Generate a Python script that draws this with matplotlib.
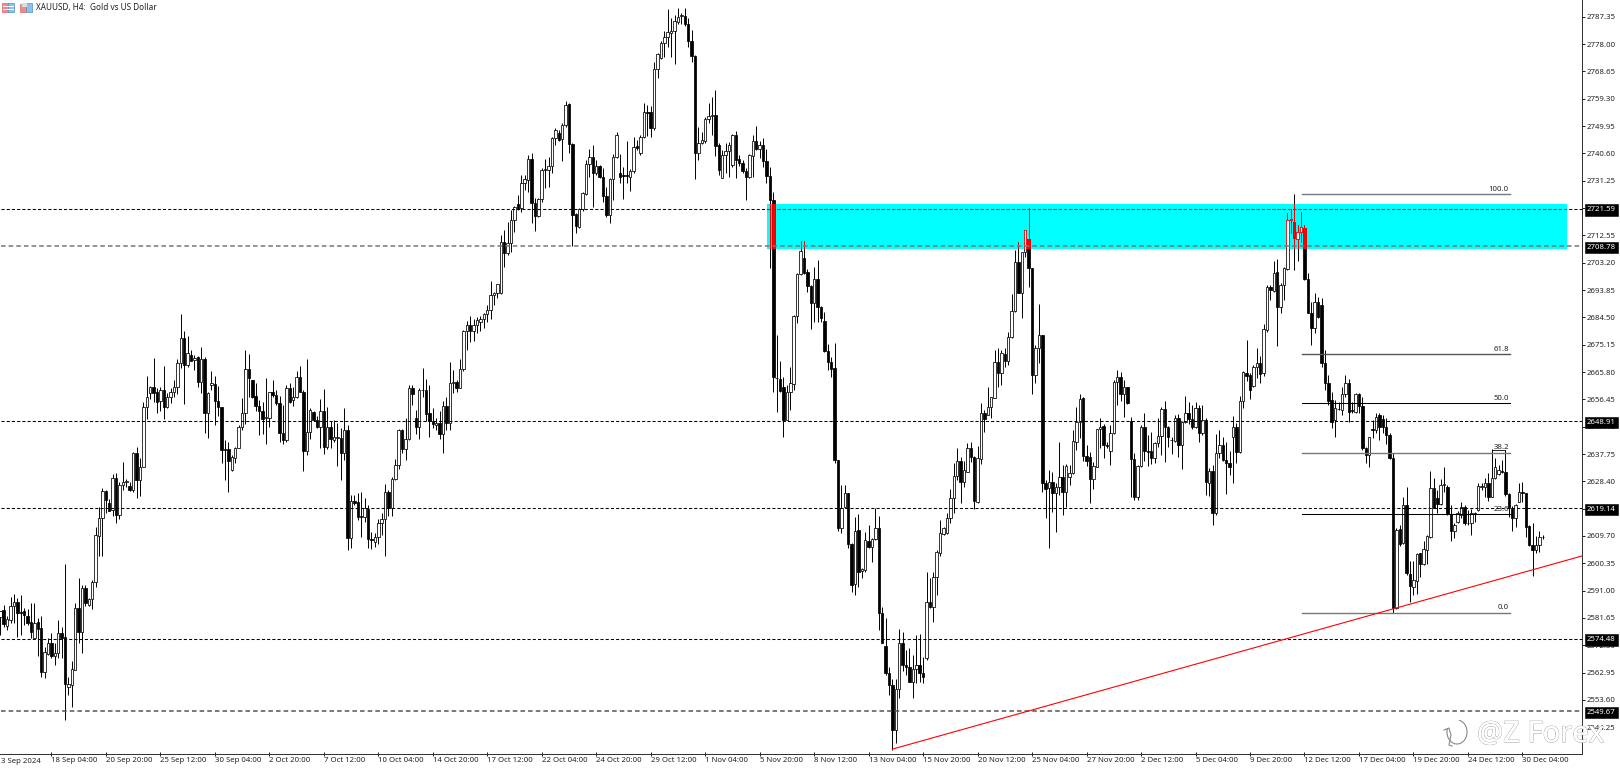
import matplotlib
matplotlib.use("Agg")
import matplotlib.pyplot as plt
import matplotlib.patheffects as pe
from matplotlib.patches import Rectangle, Arc

plt.rcParams['font.family'] = ['Noto Sans', 'DejaVu Sans']

# open, high, low, close, one H4 bar per tuple
bars_01 = [
    (2582, 2584.2, 2575.7, 2584), (2584.4, 2586.1, 2578.7, 2579.5), (2579, 2582.4, 2577.6, 2581.4), (2581, 2589, 2579.9, 2585.8),
    (2585.8, 2589.9, 2580, 2587), (2587, 2588.4, 2575.3, 2583.3), (2583.5, 2589.6, 2575.9, 2583.3), (2583.9, 2585, 2579.3, 2582.7),
    (2582.4, 2584.7, 2579.3, 2580.1), (2580.4, 2586.7, 2574.7, 2577), (2574.7, 2586.9, 2574.7, 2580.1), (2580.3, 2581.6, 2568.5, 2577.8),
    (2578.2, 2582.2, 2561.4, 2563.3), (2563.3, 2571.7, 2561.1, 2570), (2569.4, 2574.7, 2569, 2573.2), (2573.2, 2576.5, 2568.1, 2568.7),
    (2568.5, 2573, 2565.6, 2569.6), (2569.6, 2580.8, 2567.9, 2576.5), (2576.5, 2578.7, 2567.9, 2574.7), (2575.1, 2600, 2546.8, 2559.1),
    (2558.2, 2561.6, 2555.4, 2559.1), (2558.6, 2566.8, 2551.1, 2564.1), (2563.9, 2586.7, 2563.9, 2585), (2585, 2595.2, 2573, 2576.7),
    (2576.7, 2593, 2569.8, 2591.8), (2591.8, 2593, 2585.8, 2586.7), (2586.1, 2588.4, 2585.6, 2588.1), (2588.2, 2594.7, 2584.7, 2593.9),
    (2593.9, 2612.9, 2592.4, 2609.9), (2609.7, 2619.6, 2602.7, 2615.8), (2615.8, 2626, 2602.7, 2625.1), (2625.1, 2625.5, 2617.7, 2622.1),
    (2620.9, 2622.3, 2618.1, 2618.3), (2618.6, 2630.9, 2616.4, 2629.5), (2629.5, 2631.4, 2614.1, 2616.9), (2616.9, 2628.3, 2615.5, 2627),
    (2627, 2634.9, 2625.5, 2628.3), (2628.2, 2629.1, 2626.6, 2628.5), (2626.9, 2628.3, 2625.1, 2625.3), (2625.3, 2638.6, 2624.9, 2638.2),
    (2638.2, 2640.3, 2622.6, 2628.9), (2628.9, 2636.5, 2623.4, 2633.2), (2633.2, 2655.7, 2633.2, 2653.8), (2653.8, 2664.5, 2649.7, 2657.2),
    (2658.5, 2661.1, 2656.5, 2660.8), (2660.8, 2670.5, 2655.7, 2658.5), (2658.9, 2660.3, 2651.7, 2655.7), (2655.9, 2660.8, 2652.6, 2659.5),
    (2659.5, 2667.7, 2649.7, 2653.8), (2653.8, 2658.6, 2653.4, 2657.2), (2657.2, 2660.3, 2655.1, 2659.1), (2659.1, 2663.1, 2657.4, 2660.6),
    (2660.6, 2670.2, 2658.3, 2669), (2669, 2685.7, 2667.1, 2677.4), (2677.4, 2680, 2654.8, 2668.2), (2668.2, 2678.2, 2667.4, 2672.2),
    (2671.7, 2673.4, 2669.4, 2669.6), (2670, 2671.7, 2666.5, 2670.5), (2670.8, 2671.4, 2660.8, 2662.5), (2662.5, 2674.5, 2658.5, 2670.2),
    (2670.2, 2671.1, 2644.9, 2651.9), (2651.9, 2658.8, 2643.2, 2658.5), (2661.5, 2666, 2659.7, 2661.9), (2661.7, 2664.5, 2647.7, 2656),
    (2656, 2661, 2650.6, 2653.8), (2653.8, 2654, 2634.6, 2639), (2639.1, 2642.4, 2628.9, 2639), (2639.4, 2642, 2624.9, 2635.2),
    (2632.3, 2637.5, 2631.8, 2636.7), (2636.3, 2640.3, 2634.6, 2639.7), (2639.7, 2647.7, 2639.7, 2647),
]
bars_02 = [
    (2647, 2656.8, 2646, 2651.7), (2651.7, 2673.4, 2648.1, 2666.8), (2666.8, 2672, 2657.4, 2663.7), (2662.9, 2663.1, 2656.8, 2657.2),
    (2657.6, 2662.2, 2652.6, 2654.2), (2654.3, 2656.3, 2644.3, 2652.6), (2652.5, 2655.7, 2644.6, 2649.8), (2650, 2663.7, 2641.2, 2650),
    (2650, 2659.1, 2647.1, 2658.9), (2658.9, 2663.1, 2657.4, 2658), (2658, 2659.5, 2654.6, 2655.1), (2655.1, 2657.7, 2642, 2645.1),
    (2645.1, 2654.6, 2641.2, 2642.6), (2642.6, 2661.4, 2642, 2660.3), (2660.3, 2662.2, 2655.1, 2655.7), (2656.3, 2660.6, 2654.3, 2657.4),
    (2657.2, 2666, 2656.8, 2664.2), (2664.2, 2667.9, 2658.8, 2659.1), (2659.1, 2659.5, 2632.1, 2638.9), (2638.9, 2670.2, 2637.5, 2645.4),
    (2645.4, 2653.4, 2642.8, 2652.8), (2652, 2652.6, 2648.9, 2649.4), (2649.4, 2650.6, 2646.6, 2646.9), (2646.9, 2656.5, 2639.7, 2652.5),
    (2652.5, 2659.9, 2637.8, 2640.1), (2640.1, 2654, 2639.4, 2646.9), (2646.9, 2648.9, 2639.7, 2642.8), (2642.4, 2649.4, 2642, 2643.7),
    (2643.2, 2648.5, 2633.7, 2643.7), (2643.2, 2646.6, 2628.7, 2638), (2638, 2653.4, 2635.7, 2646), (2646, 2647.7, 2605, 2609),
    (2609, 2623.8, 2605.5, 2621.8), (2621.8, 2623.8, 2620.3, 2620.9), (2621.3, 2624.3, 2615.2, 2616.1), (2616.5, 2624.6, 2609.3, 2616.3),
    (2616.1, 2622.6, 2614.6, 2619.2), (2618.9, 2620.3, 2605.5, 2608.7), (2608.8, 2610.9, 2605.2, 2608.2), (2607.5, 2610.7, 2606.1, 2609.3),
    (2609.3, 2615.4, 2607, 2614.1), (2614.1, 2617.5, 2610.1, 2615.4), (2615.4, 2627.5, 2602.9, 2624.9), (2624.9, 2625.5, 2616.4, 2619.2),
    (2619.2, 2629.8, 2616.4, 2629.1), (2629.1, 2636.2, 2628.9, 2633.9), (2633.9, 2646.2, 2632.6, 2645.8), (2645.8, 2646.2, 2638, 2639.4),
    (2639.4, 2650, 2635.7, 2642.8), (2642.8, 2661.4, 2642.6, 2660.5), (2660.5, 2661.4, 2654.6, 2658.3), (2650, 2652.8, 2644.6, 2646.9),
    (2646.9, 2660.3, 2642.9, 2659.5), (2659.5, 2667.1, 2657.2, 2659.7), (2659.5, 2663.3, 2648.9, 2651.5), (2651.7, 2661.4, 2643.7, 2648.9),
    (2648.9, 2653.4, 2646.6, 2648), (2647.7, 2650, 2646, 2648.5), (2648.5, 2652.6, 2642.9, 2644.5), (2644.5, 2656, 2638, 2654.2),
    (2654.2, 2657.4, 2645.8, 2648.5), (2648.5, 2669.2, 2645.8, 2662), (2662, 2666.5, 2658.5, 2662.5), (2662.5, 2662.9, 2658.8, 2660.3),
    (2660.3, 2670.2, 2660.3, 2666.8), (2666.8, 2680.2, 2666.3, 2680), (2680, 2683.1, 2673.4, 2681.9),
]
bars_03 = [
    (2681.9, 2685, 2676, 2680), (2680, 2684, 2676.5, 2682), (2682, 2684.5, 2679, 2683.5), (2683, 2685, 2680, 2684),
    (2684, 2685.9, 2681, 2685.5), (2685.5, 2688.7, 2683, 2687), (2687, 2697, 2684, 2692.2), (2692, 2693.3, 2688.7, 2692.9),
    (2692.9, 2695.9, 2691, 2695.9), (2692.9, 2712.7, 2692.5, 2710.4), (2710.4, 2714.4, 2701.8, 2706.4), (2706.4, 2717.2, 2705.8, 2709.8),
    (2709.8, 2721.2, 2707, 2717.8), (2717.8, 2722.6, 2713.8, 2722.4), (2723.3, 2726.4, 2721.2, 2721.6), (2721.8, 2733.2, 2720.5, 2730.6),
    (2730.6, 2733.2, 2728.1, 2731.7), (2731.5, 2740, 2727.5, 2738.6), (2738.6, 2740.8, 2716.9, 2723.7), (2723.7, 2725.2, 2714.2, 2719.2),
    (2719.2, 2725.2, 2718.7, 2724.9), (2724.9, 2735.5, 2724.1, 2734.9), (2734.9, 2738.6, 2728.6, 2735.1), (2734.9, 2739.5, 2729.2, 2736.4),
    (2736.4, 2746.1, 2733.8, 2745.8), (2745.8, 2749.2, 2743.5, 2748.6), (2747.7, 2748.6, 2745, 2745.2), (2745.4, 2750.9, 2738.1, 2750.3),
    (2750.3, 2758.5, 2749.7, 2757), (2757.5, 2757.7, 2740.8, 2743.8), (2743.8, 2744, 2708.9, 2719.5), (2719.9, 2720.1, 2713.3, 2715.8),
    (2715.3, 2721.8, 2715, 2721.6), (2721.6, 2727.5, 2721, 2726.9), (2726.7, 2738.3, 2726.4, 2737), (2737, 2742, 2732.6, 2739.5),
    (2739.2, 2743.5, 2722.4, 2733.8), (2733.8, 2738.3, 2733.2, 2736.3), (2736.3, 2736.6, 2732.1, 2732.6), (2732.6, 2735.5, 2724.1, 2726.1),
    (2726.1, 2729.2, 2719, 2719.5), (2719.5, 2732.1, 2716.9, 2731.7), (2731.7, 2740.4, 2724.6, 2739.2), (2739.2, 2748, 2738.9, 2746.9),
    (2734, 2740.4, 2730.6, 2732.6), (2733.2, 2736.1, 2724.9, 2733), (2733, 2744.8, 2730.4, 2732.9), (2732.6, 2735.1, 2727.8, 2734.7),
    (2734.4, 2746.1, 2734, 2742.9), (2743.1, 2745.2, 2741.8, 2742.3), (2740.8, 2746.9, 2740, 2746.1), (2746.1, 2758, 2745.8, 2754.9),
    (2754.9, 2757.2, 2746.6, 2754.5), (2754.9, 2756.8, 2746.3, 2749.2), (2749.2, 2772, 2748.6, 2769.5), (2769.5, 2774.8, 2766.3, 2774.6),
    (2773.1, 2779.2, 2772.8, 2778.5), (2778.5, 2782.6, 2773.7, 2780.3), (2780.3, 2789.9, 2777.1, 2782), (2781.7, 2786.8, 2773.7, 2782.6),
    (2782.6, 2788, 2771.1, 2786), (2785.7, 2790.2, 2785, 2787.1), (2787.6, 2788.7, 2785, 2788), (2787.6, 2790.2, 2784.2, 2784.9),
    (2784.9, 2786.8, 2777.1, 2779.2), (2779.2, 2782.8, 2772, 2773.9), (2773.9, 2774.3, 2731.7, 2740.8), (2740.8, 2749.7, 2738.3, 2744),
    (2744, 2748, 2743.8, 2745.2), (2745, 2753.2, 2744, 2752.3), (2752.3, 2758, 2750.9, 2753.4), (2753.4, 2760, 2746.9, 2753.8),
    (2753.8, 2762.3, 2739.7, 2743.1), (2743.3, 2744, 2733.2, 2734.9), (2732.3, 2741.8, 2732.1, 2740), (2740, 2744, 2733.8, 2741.5),
    (2741.5, 2744.6, 2732.6, 2743.5), (2736.6, 2747.1, 2736, 2746.9), (2746.9, 2748.4, 2732.1, 2738.3), (2738.6, 2740, 2736.3, 2737.2),
    (2737.4, 2738.3, 2733.8, 2734.4), (2734.4, 2735.5, 2724.6, 2732.6), (2732.4, 2740.4, 2732.1, 2740), (2739.8, 2746.9, 2732.6, 2745),
    (2745, 2750, 2741.8, 2742), (2742, 2745, 2739, 2743.5),
]
bars_04 = [
    (2743.5, 2746, 2736, 2738), (2738, 2742, 2730.3, 2733), (2733, 2736, 2701.3, 2724.6), (2724.6, 2727.4, 2659.1, 2664.2),
    (2663.9, 2678.5, 2652.2, 2663.6), (2663.4, 2669.7, 2659.1, 2659.3), (2660.8, 2664.2, 2643.4, 2649.4), (2649.4, 2661.4, 2649.4, 2659.1),
    (2659.1, 2667.6, 2652.8, 2661.9), (2661.7, 2685.4, 2659.6, 2684.9), (2684.9, 2699.6, 2682.4, 2699.3), (2699.3, 2710.6, 2699, 2707.3),
    (2704.9, 2710.6, 2699.3, 2699.6), (2700.1, 2701, 2693.3, 2695.2), (2695.2, 2695.6, 2680.4, 2689.3), (2689.3, 2701.8, 2683, 2697.5),
    (2697.5, 2704.1, 2683, 2688), (2688.2, 2688.4, 2683, 2684.2), (2683.4, 2686.4, 2672.8, 2673.1), (2673.1, 2675.4, 2666.5, 2669.3),
    (2669.3, 2671, 2664, 2666.8), (2667.1, 2675.6, 2634.6, 2635.7), (2635.7, 2635.7, 2611.4, 2612.3), (2612.3, 2627.1, 2610.6, 2619.2),
    (2619.5, 2627.1, 2619.2, 2624.3), (2624.3, 2624.5, 2605.5, 2607), (2607, 2607.2, 2590.6, 2593), (2593.3, 2616.3, 2589.5, 2611.5),
    (2611.8, 2617.2, 2592.4, 2597.5), (2597.7, 2598.6, 2595.2, 2598.4), (2598.1, 2611.2, 2597.5, 2608.3), (2608.1, 2613.5, 2605.5, 2605.8),
    (2605.8, 2608.9, 2600.9, 2608.6), (2608.6, 2619.2, 2608.3, 2612.3), (2612.3, 2616.5, 2577.5, 2583.3), (2583.3, 2585.5, 2573, 2573.2),
    (2572.1, 2581.5, 2562.1, 2562.7), (2562.7, 2565, 2555.3, 2558.7), (2558.7, 2560.7, 2536.5, 2543.3), (2543.3, 2560.7, 2539, 2557.2),
    (2557.2, 2577.8, 2554.2, 2573.2), (2573.2, 2577, 2563.6, 2565.6), (2565.6, 2570.7, 2562.1, 2564.8), (2564.8, 2571.3, 2559.9, 2559.9),
    (2559.9, 2569, 2554.4, 2564.1), (2564.1, 2575.8, 2559.3, 2565.6), (2565.6, 2576.2, 2559.9, 2563), (2563, 2568.4, 2559.3, 2561.6),
    (2567.8, 2597.5, 2567.3, 2587.2), (2587.2, 2595.4, 2585, 2585.3), (2585.5, 2597.5, 2580.4, 2595.8), (2595.8, 2604.9, 2589.5, 2604.3),
    (2604, 2615.2, 2602.9, 2610.6), (2610.4, 2612.9, 2610, 2612.3), (2610.6, 2617.7, 2610.4, 2615.7), (2615.7, 2625.7, 2614, 2622.6),
    (2622.6, 2634.8, 2617.5, 2630.2), (2630.2, 2639.7, 2628.9, 2635.4), (2635.4, 2636.8, 2620.9, 2628.3), (2628.3, 2635.2, 2626.6, 2632.3),
    (2631.7, 2641.6, 2631.7, 2639.7), (2639.7, 2642, 2635.1, 2636.8), (2636.8, 2637, 2618.8, 2621.8), (2621.4, 2640.5, 2620.9, 2636.3),
    (2636, 2655.3, 2634.3, 2651.9), (2651.9, 2652.8, 2645.4, 2649.6), (2651, 2660.6, 2651, 2653.7), (2653.7, 2657.4, 2650, 2657.1),
    (2656.8, 2673.3, 2656.8, 2669.1), (2669.1, 2673.9, 2660.8, 2665.6), (2665.6, 2673.3, 2661.4, 2672.2), (2672, 2673.9, 2667.6, 2669.7),
    (2669.7, 2679.6, 2668.2, 2677.7), (2677.7, 2692.5, 2677.3, 2686.8), (2686.8, 2707.5, 2686.4, 2703.3), (2703.3, 2710.4, 2692.9, 2693),
    (2693, 2707, 2684.4, 2707), (2707, 2714.4, 2705, 2714.4), (2711.2, 2721.8, 2695, 2701.3), (2701.3, 2701.5, 2658.3, 2664.8),
    (2664.8, 2675, 2661.9, 2673.9), (2673.9, 2689, 2668.8, 2678.4),
]
bars_05 = [
    (2678.4, 2678.6, 2624.9, 2627.7), (2628, 2628.9, 2615.8, 2625.7), (2626, 2632.3, 2605.5, 2628.3), (2628.3, 2631.7, 2618, 2624.5),
    (2624.5, 2628, 2611, 2626.4), (2626.4, 2642, 2623.7, 2630), (2630, 2634, 2616.9, 2624.9), (2624.9, 2634.3, 2619.7, 2633.7),
    (2630, 2634, 2627.1, 2631.4), (2631.4, 2646, 2630.9, 2642.3), (2642, 2653.9, 2639.1, 2648.8), (2648.8, 2658.3, 2643.1, 2656.5),
    (2656.8, 2657.4, 2635.5, 2637.1), (2637.2, 2640.8, 2633.6, 2635.5), (2636.6, 2638.5, 2621.1, 2629.1), (2629.1, 2635.1, 2625.7, 2633.6),
    (2633.4, 2646.2, 2633.4, 2646.2), (2646.2, 2650, 2639.7, 2647.1), (2647.3, 2648, 2636.3, 2640.8), (2641, 2642, 2639.7, 2640.5),
    (2638.9, 2647.7, 2634, 2645.1), (2644.8, 2663.1, 2644.6, 2662.5), (2662.5, 2666.5, 2654.5, 2664.2), (2664.2, 2665.9, 2656, 2658.3),
    (2658.3, 2663.1, 2650.5, 2660.6), (2660.6, 2660.8, 2654.9, 2655.1), (2649.2, 2650.3, 2622.9, 2635.9), (2635.9, 2638.2, 2622, 2623.2),
    (2623.2, 2634, 2622, 2633.6), (2633.6, 2647.7, 2633.4, 2647.1), (2647.1, 2651.9, 2635.5, 2638.9), (2638.9, 2644.3, 2633.6, 2638.6),
    (2638.9, 2645.4, 2634.2, 2636.3), (2636.3, 2642, 2634.6, 2641.4), (2641.4, 2649.9, 2640.3, 2643.9), (2643.9, 2653.7, 2637.4, 2653),
    (2653, 2656, 2635.1, 2646.9), (2647.1, 2647.3, 2640.3, 2643.4), (2642.7, 2643.7, 2637.8, 2642.4), (2642.3, 2651.1, 2642, 2650),
    (2650, 2651.4, 2636.6, 2640.8), (2640.8, 2649.2, 2632.5, 2648.6), (2648.6, 2657.6, 2648.2, 2651.7), (2651.7, 2655.6, 2648, 2649.6),
    (2649.6, 2654.5, 2646.2, 2647.1), (2647.1, 2655.6, 2646.5, 2653.4), (2653.4, 2654.5, 2642, 2645.1), (2644.8, 2654.5, 2644.3, 2649.4),
    (2649.4, 2650, 2623.7, 2628.3), (2628, 2632.8, 2623.4, 2632), (2632, 2634, 2613.5, 2617.7), (2617.7, 2644.6, 2616.9, 2638.2),
    (2638.2, 2646, 2636.3, 2640.8), (2640.8, 2643.7, 2635.5, 2635.7), (2635.7, 2641.7, 2624.1, 2634.8), (2634.8, 2638.9, 2630.6, 2633.4),
    (2643.5, 2650.8, 2627.7, 2646.9), (2646.9, 2648.5, 2634.8, 2638.4), (2638.4, 2657.7, 2638.2, 2655.9), (2655.9, 2666.2, 2653.4, 2665.9),
    (2665.6, 2676.7, 2662.8, 2664.6), (2664.8, 2665.3, 2656.6, 2659.7), (2661, 2668.2, 2660.8, 2667.6), (2667.6, 2673.9, 2663.6, 2669),
    (2669, 2671.3, 2661.9, 2665.1), (2665.3, 2682.2, 2664.5, 2680.4),
]
bars_06 = [
    (2680.2, 2695.6, 2679.6, 2695), (2695, 2695.6, 2690.4, 2693.9), (2693.6, 2703.9, 2693.3, 2699.8), (2700, 2704.3, 2674.7, 2688.2),
    (2688.2, 2696.1, 2686.1, 2695.6), (2695.6, 2701.8, 2690.4, 2701.3), (2701, 2720.3, 2700.7, 2717.8), (2717.8, 2721.4, 2713.3, 2718),
    (2717.2, 2726.7, 2700.7, 2711.5), (2711.2, 2716.1, 2703.9, 2713.8), (2713.8, 2720.7, 2710.4, 2715.3), (2715.2, 2716.1, 2697.3, 2697.5),
    (2697.5, 2699.6, 2685.9, 2686.1), (2686.1, 2689.9, 2675, 2680.7), (2680.7, 2692.9, 2679, 2689.9), (2689.9, 2691.6, 2684.2, 2684.5),
    (2688.7, 2691, 2667.6, 2668.8), (2669, 2673.3, 2659.6, 2662.1), (2662.1, 2664.8, 2654.5, 2656), (2656.2, 2659.1, 2646.5, 2648.8),
    (2649.4, 2656.2, 2643.7, 2653.4), (2653.2, 2655.7, 2652.7, 2653), (2652.8, 2660.8, 2651.1, 2658.3), (2658.3, 2664.8, 2657.4, 2661.9),
    (2661.9, 2663.3, 2648.8, 2652.2), (2652.6, 2655.7, 2651.7, 2652.4), (2652.2, 2658.7, 2651.7, 2658.3), (2658.3, 2658.7, 2651.7, 2654.2),
    (2654.2, 2657.4, 2639.1, 2639.7), (2639.7, 2640.2, 2634.6, 2637.4), (2637.4, 2643.7, 2633.2, 2643.4), (2646.2, 2649.4, 2643.1, 2646.1),
    (2646.1, 2651.7, 2644.8, 2650.5), (2651.1, 2651.7, 2642.5, 2647.1), (2649.6, 2651.1, 2645, 2647.1), (2647.1, 2650, 2641.2, 2644.2),
    (2644.2, 2644.8, 2636, 2636.3), (2636.3, 2638, 2583.3, 2585), (2584.9, 2612.3, 2584.6, 2611.7), (2612, 2613.5, 2606.3, 2607),
    (2607.2, 2623.2, 2607, 2620.3), (2620.3, 2626.6, 2596.4, 2596.9), (2596.7, 2601.3, 2587.2, 2592.7), (2592.4, 2601.3, 2589.5, 2594.7),
    (2594.4, 2604, 2589.9, 2603.5), (2603.8, 2604, 2595.8, 2600.1), (2600.1, 2608.1, 2599.8, 2605.1), (2605, 2610, 2600.1, 2609.7),
    (2609.3, 2632, 2608.9, 2626), (2626, 2629.4, 2619.2, 2619.2), (2622.6, 2625.4, 2617.5, 2620.6), (2620.6, 2629.1, 2620.3, 2627.1),
    (2627.1, 2633.2, 2624.9, 2627.6), (2626.6, 2627.2, 2616.9, 2617.2), (2617.2, 2620.3, 2608.1, 2611.5), (2611.5, 2614.3, 2608.9, 2613.5),
    (2614.6, 2618.4, 2614.3, 2617.5), (2617, 2621.4, 2615.7, 2619.5), (2619.5, 2620.3, 2613.5, 2614.3), (2614, 2618.6, 2613.3, 2614.2),
    (2614, 2618.8, 2610, 2617.5), (2617.1, 2618, 2614.6, 2617.2), (2618.6, 2627.9, 2618.4, 2626.8), (2626.6, 2627.9, 2625.6, 2626.7),
    (2626.4, 2629.4, 2623.2, 2627.7), (2627.7, 2631.1, 2621.8, 2623.2), (2623.2, 2639.3, 2622.9, 2629.4), (2629.4, 2636.3, 2629.1, 2633.4),
    (2631, 2634, 2630.6, 2632.3), (2631.8, 2635.7, 2631.1, 2631.7), (2631.7, 2639.2, 2623.4, 2624.1), (2624.1, 2624.3, 2616.3, 2619.2),
    (2619.2, 2620, 2611.5, 2615.8), (2615.8, 2620.6, 2612.9, 2620.3), (2621.4, 2627.7, 2621.4, 2624.9), (2624.7, 2628.3, 2621.4, 2624.5),
    (2624.3, 2624.5, 2609.2, 2612.9), (2613.1, 2613.5, 2606.3, 2606.6), (2606.6, 2614, 2596, 2604.9), (2604.9, 2609.7, 2603.8, 2606.6),
    (2606.6, 2611.5, 2604.3, 2609.2), (2609.2, 2610, 2608.6, 2609.5),
]

time_ticks = [15 + 16 * k for k in range(28)]
time_labels = ['18 Sep 04:00', '20 Sep 20:00', '25 Sep 12:00', '30 Sep 04:00', '2 Oct 20:00', '7 Oct 12:00', '10 Oct 04:00',
               '14 Oct 20:00', '17 Oct 12:00', '22 Oct 04:00', '24 Oct 20:00', '29 Oct 12:00', '1 Nov 04:00', '5 Nov 20:00',
               '8 Nov 12:00', '13 Nov 04:00', '15 Nov 20:00', '20 Nov 12:00', '25 Nov 04:00', '27 Nov 20:00', '2 Dec 12:00',
               '5 Dec 04:00', '9 Dec 20:00', '12 Dec 12:00', '17 Dec 04:00', '19 Dec 20:00', '24 Dec 12:00', '30 Dec 04:00']
price_ticks = [2787.35, 2778.00, 2768.65, 2759.30, 2749.95, 2740.60, 2731.25, 2721.90, 2712.55, 2703.20, 2693.85, 2684.50,
               2675.15, 2665.80, 2656.45, 2647.10, 2637.75, 2628.40, 2619.05, 2609.70, 2600.35, 2591.00, 2581.65, 2572.30,
               2562.95, 2553.60, 2544.25]
level_prices = [2721.59, 2708.78, 2648.91, 2619.14, 2574.48, 2549.67]
level_colors = ['black', '#777777', 'black', 'black', 'black', '#555555']
fib_labels = ['100.0', '61.8', '50.0', '38.2', '23.6', '0.0']
fib_prices = [2726.7, 2672.0, 2655.1, 2638.2, 2617.1, 2583.4]
fib_colors = ['#777777', '#555555', 'black', '#777777', 'black', '#777777']
zone_top, zone_bottom = 2723.3, 2707.8
trend_x = [262, 464.6]
trend_y = [2536.8, 2602.9]

bars = bars_01 + bars_02 + bars_03 + bars_04 + bars_05 + bars_06
opens = [b[0] for b in bars]
highs = [b[1] for b in bars]
lows = [b[2] for b in bars]
closes = [b[3] for b in bars]
idx = list(range(len(bars)))

W, H = 1620, 775
FS = 5.6
fig = plt.figure(figsize=(W / 100, H / 100), dpi=100)
ax = fig.add_axes([0, 21 / H, 1582 / W, 754 / H])
ax.set_xlim(-0.09, 464.5)
ax.set_ylim(2535.12, 2793.07)


def candles(color, clip=None, zorder=3):
    wicks = ax.vlines(idx, lows, highs, color=color, lw=0.7, zorder=zorder)
    bottoms = [min(o, c) for o, c in zip(opens, closes)]
    heights = [max(abs(c - o), 0.3) for o, c in zip(opens, closes)]
    faces = ['white' if c >= o else color for o, c in zip(opens, closes)]
    body = ax.bar(idx, heights, bottom=bottoms, width=0.72, color=faces, edgecolor=color, linewidth=0.55, zorder=zorder + 0.1)
    if clip is not None:
        wicks.set_clip_path(clip)
        for p in body:
            p.set_clip_path(clip)


zone = Rectangle((225.1, zone_bottom), 460.2 - 225.1, zone_top - zone_bottom, facecolor='#00ffff', edgecolor='none', zorder=1)
ax.add_patch(zone)
candles('black')
candles('#ff0000', clip=zone, zorder=3.5)

dash = (0, (3, 2))
for price, col in zip(level_prices, level_colors):
    ax.plot([0.35, 464.5], [price, price], color=col, lw=0.75 if col == 'black' else 1.1, ls=dash, zorder=4)
top_in_zone = ax.plot([0.35, 464.5], [level_prices[0]] * 2, color='#ff0000', lw=0.75, ls=dash, zorder=4.1)[0]
top_in_zone.set_clip_path(zone)

for name, price, col in zip(fib_labels, fib_prices, fib_colors):
    ax.plot([382.4, 443.4], [price, price], color=col, lw=0.75 if col == 'black' else 1.0, zorder=4.2)
    ax.annotate(name, xy=(443, price), xytext=(0, 1.0), textcoords='offset points', ha='right', va='bottom',
                fontsize=FS, color='#222222', zorder=6)
ax.plot([438, 442], [2639.2, 2639.2], color='black', lw=0.6, zorder=4.2)
ax.plot(trend_x, trend_y, color='#ff0000', lw=0.8, zorder=5)

for s in ['top', 'left']:
    ax.spines[s].set_visible(False)
for s in ['right', 'bottom']:
    ax.spines[s].set_linewidth(0.72)
    ax.spines[s].set_color('#333333')
ax.yaxis.tick_right()
ax.set_yticks(price_ticks, [f'{p:.2f}' for p in price_ticks])
ax.set_xticks(time_ticks, time_labels, ha='left')
ax.tick_params(axis='y', length=2.2, width=0.72, pad=1.2, labelsize=FS, color='#222222', labelcolor='#222222')
ax.tick_params(axis='x', length=2.2, width=0.72, pad=0.8, labelsize=FS, color='#222222', labelcolor='#222222', direction='inout')
ax.annotate('3 Sep 2024', xy=(0, 0), xycoords='axes fraction', xytext=(0.7, -3.1), textcoords='offset points',
            ha='left', va='top', fontsize=FS, color='#222222')

for price in level_prices:
    ax.annotate(f'{price:.2f}', xy=(1, price), xycoords=('axes fraction', 'data'), xytext=(3.5, 0),
                textcoords='offset points', ha='left', va='center_baseline', fontsize=FS, color='white', zorder=10,
                annotation_clip=False,
                bbox=dict(boxstyle='square,pad=0.28', facecolor='black', edgecolor='black', linewidth=0.4))

# header icons, title and watermark sit on a pixel overlay
ov = fig.add_axes([0, 0, 1, 1], zorder=20)
ov.set_xlim(0, W)
ov.set_ylim(H, 0)
ov.axis('off')
ov.add_patch(Rectangle((1.5, 3), 6, 9, facecolor='#ee8a8a', edgecolor='#e06666', lw=0.5))
ov.add_patch(Rectangle((7.5, 3), 6, 9, facecolor='#8fc1e8', edgecolor='#4a90c8', lw=0.5))
for yy in [6, 9]:
    ov.plot([2.5, 12.5], [yy, yy], color='white', lw=0.7)
ov.add_patch(Rectangle((19.5, 4), 6, 8, facecolor='#ee8a8a', edgecolor='#e06666', lw=0.5))
ov.add_patch(Rectangle((26, 3), 5.5, 9, facecolor='#8fc1e8', edgecolor='#4a90c8', lw=0.5))
ov.add_patch(Rectangle((22, 3), 5, 4, facecolor='#dddddd', edgecolor='none'))
ov.text(36, 7.8, 'XAUUSD, H4:  Gold vs US Dollar', fontsize=5.9, color='#222222', ha='left', va='center')

mark = [pe.withStroke(linewidth=0.7, foreground='#999999'), pe.Normal()]
ov.text(1477, 742, '@Z Forex', fontsize=21, color='white', ha='left', va='baseline', path_effects=mark, family='Noto Sans')
ov.add_patch(Arc((1457, 732), 20, 24, theta1=-80, theta2=200, edgecolor='#888888', lw=0.8))
ov.plot([1444, 1449, 1451, 1449, 1452], [730, 728, 735, 745, 746], color='#888888', lw=0.8)

fig.savefig('out.png', dpi=100)
